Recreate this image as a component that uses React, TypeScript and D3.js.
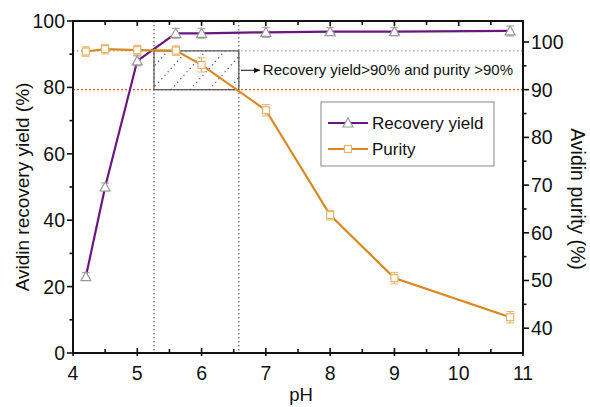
import React from 'react';
import * as d3 from 'd3';

const pH = [4.2, 4.5, 5.0, 5.6, 6.0, 7.0, 8.0, 9.0, 10.8];
const recoveryYield = [23, 50, 88, 96.3, 96.3, 96.6, 96.8, 96.8, 97];
const yieldErr = [1.2, 1.2, 1.5, 1.5, 1.5, 1.5, 1.2, 1.2, 1.5];
const purity = [98.0, 98.5, 98.3, 98.2, 95.2, 85.7, 63.7, 50.5, 42.3];
const purityErr = [1.0, 1.0, 1.0, 1.0, 1.5, 1.2, 1.0, 1.2, 1.2];

const xTicks = [4, 5, 6, 7, 8, 9, 10, 11];
const leftTicks = [0, 20, 40, 60, 80, 100];
const rightTicks = [40, 50, 60, 70, 80, 90, 100];

// window of interest
const winPH = [5.26, 6.58];
const yieldLimit = 91;
const purityLimit = 90;
const note = 'Recovery yield>90% and purity >90%';

const W = 590;
const H = 407;
const m = { left: 73, right: 523, top: 21, bottom: 353 };
const font = '"Liberation Sans", Arial, sans-serif';
const purple = '#6b1680';
const orange = '#d98a1e';
const orangeLight = '#eab36a';
const grayMark = '#9a9a9a';

const App = () => {
  const x = d3.scaleLinear().domain([4, 11]).range([m.left, m.right]);
  const yL = d3.scaleLinear().domain([0, 100]).range([m.bottom, m.top]);
  const yR = d3.scaleLinear().domain([34.8, 104.4]).range([m.bottom, m.top]);

  const yieldLine = d3.line<number>().x((d, i) => x(pH[i])).y(d => yL(d));
  const purityLine = d3.line<number>().x((d, i) => x(pH[i])).y(d => yR(d));

  const xMinor = d3.range(4.5, 11, 1);
  const lMinor = d3.range(10, 100, 20);
  const rMinor = d3.range(45, 104, 10);

  const bx0 = x(winPH[0]);
  const bx1 = x(winPH[1]);
  const by0 = yL(yieldLimit);
  const by1 = yR(purityLimit);

  // hatch lines inside the window box
  const hatch: string[] = [];
  for (let k = -40; k < 100; k += 19) {
    hatch.push(`M${bx0 + k},${by1} L${bx0 + k + (by1 - by0) * 0.9},${by0}`);
  }

  const errBar = (cx: number, cy0: number, cy1: number, color: string, key: string) => (
    <g key={key} stroke={color} strokeWidth={1}>
      <line x1={cx} x2={cx} y1={cy0} y2={cy1} />
      <line x1={cx - 4} x2={cx + 4} y1={cy0} y2={cy0} />
      <line x1={cx - 4} x2={cx + 4} y1={cy1} y2={cy1} />
    </g>
  );

  const tri = (cx: number, cy: number) =>
    `M${cx},${cy - 5} L${cx + 5},${cy + 4} L${cx - 5},${cy + 4} Z`;

  return (
    <svg width={W} height={H} style={{ position: 'absolute', left: 0, top: 0, background: '#fff' }} fontFamily={font}>
      <defs>
        <clipPath id="box">
          <rect x={bx0} y={by0} width={bx1 - bx0} height={by1 - by0} />
        </clipPath>
        <marker id="arr" viewBox="0 0 10 10" refX="9" refY="5" markerWidth="7" markerHeight="7" orient="auto">
          <path d="M0,1 L10,5 L0,9 Z" fill="#111" />
        </marker>
      </defs>

      {/* window lines */}
      <g stroke="#444" strokeWidth={1} strokeDasharray="1.5,2.5">
        <line x1={bx0} x2={bx0} y1={m.top} y2={m.bottom} />
        <line x1={bx1} x2={bx1} y1={m.top} y2={m.bottom} />
        <line x1={m.left} x2={m.right} y1={by0} y2={by0} stroke="#888" />
      </g>
      <line x1={m.left} x2={m.right} y1={by1} y2={by1} style={{ stroke: '#e34a33' }} strokeWidth={1.3} strokeDasharray="2,2" />
      <g clipPath="url(#box)" stroke="#4040d8" strokeWidth={1.2} strokeDasharray="1.2,3.5">
        {hatch.map((d, i) => <path key={i} d={d} />)}
      </g>
      <rect x={bx0} y={by0} width={bx1 - bx0} height={by1 - by0} fill="none" stroke="#555" strokeWidth={1.2} />
      <line x1={bx1 + 2} x2={bx1 + 21} y1={(by0 + by1) / 2} y2={(by0 + by1) / 2} stroke="#111" strokeWidth={1} markerEnd="url(#arr)" />
      <text x={bx1 + 24} y={(by0 + by1) / 2 + 5} fontSize={15} fill="#111">{note}</text>

      {/* series */}
      <path d={yieldLine(recoveryYield) || ''} fill="none" stroke={purple} strokeWidth={2.2} />
      <path d={purityLine(purity) || ''} fill="none" stroke={orange} strokeWidth={2.2} />
      {purity.map((v, i) => errBar(x(pH[i]), yR(v - purityErr[i]), yR(v + purityErr[i]), orangeLight, 'pe' + i))}
      {purity.map((v, i) => (
        <rect key={'ps' + i} x={x(pH[i]) - 3.5} y={yR(v) - 3.5} width={7} height={7} fill="#fff" stroke={orangeLight} strokeWidth={1.2} />
      ))}
      {recoveryYield.map((v, i) => errBar(x(pH[i]), yL(v - yieldErr[i]), yL(v + yieldErr[i]), grayMark, 'ye' + i))}
      {recoveryYield.map((v, i) => (
        <path key={'yt' + i} d={tri(x(pH[i]), yL(v))} fill="#fff" stroke={grayMark} strokeWidth={1.2} />
      ))}

      {/* frame */}
      <rect x={m.left} y={m.top} width={m.right - m.left} height={m.bottom - m.top} fill="none" stroke="#111" strokeWidth={2} />

      {/* ticks */}
      <g stroke="#111" strokeWidth={1.6}>
        {xTicks.map(t => (
          <g key={'xt' + t}>
            <line x1={x(t)} x2={x(t)} y1={m.bottom + 3} y2={m.bottom - 5} />
            <line x1={x(t)} x2={x(t)} y1={m.top} y2={m.top + 5} />
          </g>
        ))}
        {xMinor.map(t => (
          <g key={'xm' + t}>
            <line x1={x(t)} x2={x(t)} y1={m.bottom} y2={m.bottom - 4} />
            <line x1={x(t)} x2={x(t)} y1={m.top} y2={m.top + 4} />
          </g>
        ))}
        {leftTicks.map(t => <line key={'lt' + t} x1={m.left - 6} x2={m.left} y1={yL(t)} y2={yL(t)} />)}
        {lMinor.map(t => <line key={'lm' + t} x1={m.left - 3.5} x2={m.left} y1={yL(t)} y2={yL(t)} />)}
        {rightTicks.map(t => <line key={'rt' + t} x1={m.right} x2={m.right + 6} y1={yR(t)} y2={yR(t)} />)}
        {rMinor.map(t => <line key={'rm' + t} x1={m.right} x2={m.right + 3.5} y1={yR(t)} y2={yR(t)} />)}
      </g>

      {/* tick labels */}
      <g fontSize={19.5} fill="#111">
        {xTicks.map(t => (
          <text key={'xl' + t} x={x(t)} y={m.bottom + 27} textAnchor="middle">{t}</text>
        ))}
        {leftTicks.map(t => (
          <text key={'ll' + t} x={m.left - 8} y={yL(t) + 7} textAnchor="end">{t}</text>
        ))}
        {rightTicks.map(t => (
          <text key={'rl' + t} x={m.right + 8} y={yR(t) + 7} textAnchor="start">{t}</text>
        ))}
      </g>

      {/* axis titles */}
      <text x={(m.left + m.right) / 2 + 3} y={401} textAnchor="middle" fontSize={18.5} fill="#111">pH</text>
      <text transform={`translate(29,${(m.top + m.bottom) / 2}) rotate(-90)`} textAnchor="middle" fontSize={19} fill="#111">
        Avidin recovery yield (%)
      </text>
      <text transform={`translate(571,${(m.top + m.bottom) / 2 + 12}) rotate(90)`} textAnchor="middle" fontSize={19.5} fill="#111">
        Avidin purity (%)
      </text>

      {/* legend */}
      <g>
        <rect x={321} y={102} width={173} height={64} fill="#fff" stroke="#888" strokeWidth={1} />
        <line x1={328} x2={368} y1={123} y2={123} stroke={purple} strokeWidth={2.2} />
        <path d={tri(348, 123)} fill="#fff" stroke={grayMark} strokeWidth={1.2} />
        <text x={372} y={129} fontSize={17} fill="#111">Recovery yield</text>
        <line x1={328} x2={368} y1={149} y2={149} stroke={orange} strokeWidth={2.2} />
        <rect x={344.5} y={145.5} width={7} height={7} fill="#fff" stroke={orangeLight} strokeWidth={1.2} />
        <text x={372} y={155} fontSize={17} fill="#111">Purity</text>
      </g>
    </svg>
  );
};

export default App;
